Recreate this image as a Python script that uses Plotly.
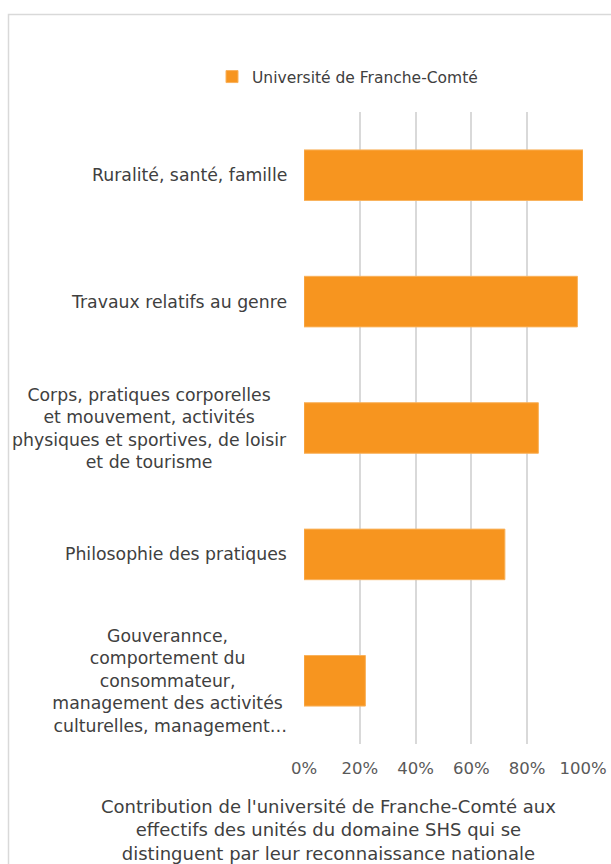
import plotly.graph_objects as go

categories = [
    "Ruralité, santé, famille",
    "Travaux relatifs au genre",
    "Corps, pratiques corporelles<br>et mouvement, activités<br>physiques et sportives, de loisir<br>et de tourisme",
    "Philosophie des pratiques",
    "Gouverannce,<br>comportement du<br>consommateur,<br>management des activités<br> culturelles, management…",
]
values = [1.00, 0.98, 0.84, 0.72, 0.22]
series_name = "Université de Franche-Comté"
tick_vals = [0, 0.2, 0.4, 0.6, 0.8, 1.0]
x_title = "Contribution de l'université de Franche-Comté aux<br>effectifs des unités du domaine SHS qui se<br>distinguent par leur reconnaissance nationale"

FONT = "DejaVu Sans"
ORANGE = "#F7951F"
TEXT = "#404040"
GRID = "#D9D9D9"

W, H = 611, 864
L, R, T, B = 304, 28, 112, 120
pw, ph = W - L - R, H - T - B

def px_x(px):
    return (px - L) / pw

def px_y(py):
    return (H - B - py) / ph

fig = go.Figure()
fig.add_trace(go.Bar(
    x=values, y=categories, orientation="h", name=series_name,
    marker=dict(color=ORANGE, line=dict(color="#F9B25C", width=1)),
    showlegend=True,
))

annotations = []
for c in categories:
    annotations.append(dict(
        x=px_x(288.5), xref="paper", y=c, yref="y", text=c,
        xanchor="right", yanchor="middle", align="center", showarrow=False,
        font=dict(family=FONT, size=17.3, color=TEXT),
    ))
annotations.append(dict(
    x=px_x(328), xref="paper", y=px_y(829.5), yref="paper", text=x_title,
    xanchor="center", yanchor="middle", align="center", showarrow=False,
    font=dict(family=FONT, size=18, color=TEXT),
))

fig.update_layout(
    width=W, height=H, autosize=False,
    margin=dict(l=L, r=R, t=T, b=B, autoexpand=False),
    paper_bgcolor="white", plot_bgcolor="white",
    font=dict(family=FONT, size=17.5, color=TEXT),
    bargap=0.6,
    showlegend=True,
    legend=dict(
        orientation="h", x=px_x(212), xanchor="left", y=px_y(77), yanchor="middle",
        font=dict(family=FONT, size=15.5, color=TEXT), bgcolor="rgba(0,0,0,0)",
    ),
    xaxis=dict(
        range=[0, 1], tickvals=tick_vals, tickformat=".0%",
        showgrid=True, gridcolor=GRID, gridwidth=1.5,
        zeroline=False, showline=False, ticks="", automargin=False,
        tickfont=dict(family=FONT, size=16.5, color="#595959"),
        ticklabelstandoff=12,
    ),
    yaxis=dict(
        autorange="reversed", showticklabels=False, showgrid=False,
        zeroline=False, showline=False, ticks="", automargin=False,
    ),
    annotations=annotations,
    shapes=[dict(
        type="rect", xref="paper", yref="paper",
        x0=px_x(8.5), x1=px_x(640), y0=px_y(900), y1=px_y(14.5),
        line=dict(color=GRID, width=1.5), fillcolor="rgba(0,0,0,0)", layer="below",
    )],
)

fig.write_html(
    "out.html",
    config={"responsive": False, "displayModeBar": False},
    default_width="611px", default_height="864px",
    post_script="document.body.style.margin='0';document.body.style.overflow='hidden';",
)
